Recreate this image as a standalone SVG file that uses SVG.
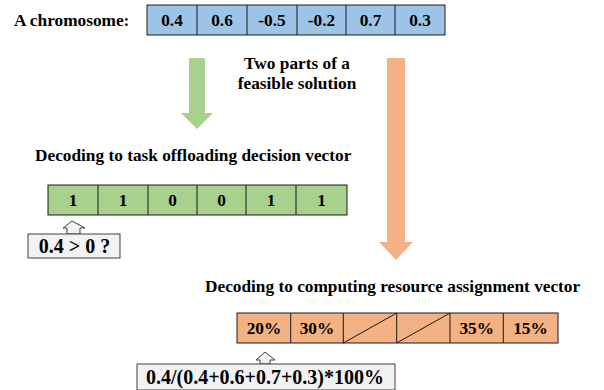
<svg xmlns="http://www.w3.org/2000/svg" width="604" height="390" viewBox="0 0 604 390">
<style>
text{font-family:"Liberation Serif","Times New Roman","DejaVu Serif",serif;font-weight:bold;fill:#000}
.c{text-anchor:middle}
.t{font-size:17.3px}
.v{font-size:17.3px}
.n{font-size:20px}
.blue{fill:#9DC3E6;stroke:#1a1a1a;stroke-width:1}
.green{fill:#A9D18E;stroke:#1a1a1a;stroke-width:1}
.orange{fill:#F4B183;stroke:#1a1a1a;stroke-width:1}
.note{fill:#F2F2F2;stroke:#404040;stroke-width:1}
.ln{stroke:#1a1a1a;stroke-width:1;fill:none}
</style>
<g id="label-chromosome"><text class="t" x="14" y="26">A chromosome:</text></g>
<g id="chromosome">
<rect class="blue" x="147" y="5" width="298" height="30"/>
<path class="ln" d="M197 5V35M247 5V35M297 5V35M346 5V35M395 5V35"/>
<text class="v c" x="172" y="26">0.4</text>
<text class="v c" x="222" y="26">0.6</text>
<text class="v c" x="272" y="26">-0.5</text>
<text class="v c" x="321.5" y="26">-0.2</text>
<text class="v c" x="370.5" y="26">0.7</text>
<text class="v c" x="420" y="26">0.3</text>
</g>
<g id="label-two-parts">
<text class="t c" x="297" y="69">Two parts of a</text>
<text class="t c" x="297" y="89">feasible solution</text>
</g>
<g id="connectors">
<polygon id="arrow-green" fill="#A9D18E" points="189,58 205,58 205,113 213,113 197,129 181,113 189,113"/>
<polygon id="arrow-orange" fill="#F4B183" points="387,58 405,58 405,242 413,242 396,260 379,242 387,242"/>
<polygon id="arrow-note1" class="note" points="67,234 67,228 63,228 72,221 85,228 80,228 80,234"/>
<polygon id="arrow-note2" class="note" points="260,364 260,360 256,360 265,352 275,360 270,360 270,364"/>
</g>
<g id="label-offloading"><text class="t" x="35" y="161">Decoding to task offloading decision vector</text></g>
<g id="offloading-vector">
<rect class="green" x="48" y="185" width="299" height="30"/>
<path class="ln" d="M98 185V215M148 185V215M197 185V215M246 185V215M296 185V215"/>
<text class="v c" x="73" y="206">1</text>
<text class="v c" x="123" y="206">1</text>
<text class="v c" x="172.5" y="206">0</text>
<text class="v c" x="221.5" y="206">0</text>
<text class="v c" x="271" y="206">1</text>
<text class="v c" x="321.5" y="206">1</text>
</g>
<g id="note-threshold">
<rect class="note" x="28" y="234" width="92" height="24"/>
<text class="n c" x="74.5" y="253">0.4 &gt; 0 ?</text>
</g>
<g id="label-resource"><text class="t" x="205" y="292">Decoding to computing resource assignment vector</text></g>
<g id="resource-vector">
<rect class="orange" x="237" y="313" width="321" height="30"/>
<path class="ln" d="M290.7 313V343M343.3 313V343M396.7 313V343M450 313V343M503.3 313V343"/>
<path class="ln" d="M343.3 343L396.7 313M396.7 343L450 313"/>
<text class="v c" x="264" y="334">20%</text>
<text class="v c" x="317" y="334">30%</text>
<text class="v c" x="476.7" y="334">35%</text>
<text class="v c" x="530.5" y="334">15%</text>
</g>
<g id="note-formula">
<rect class="note" x="137" y="364" width="258" height="26"/>
<text class="n c" x="265" y="384">0.4/(0.4+0.6+0.7+0.3)*100%</text>
</g>
</svg>
